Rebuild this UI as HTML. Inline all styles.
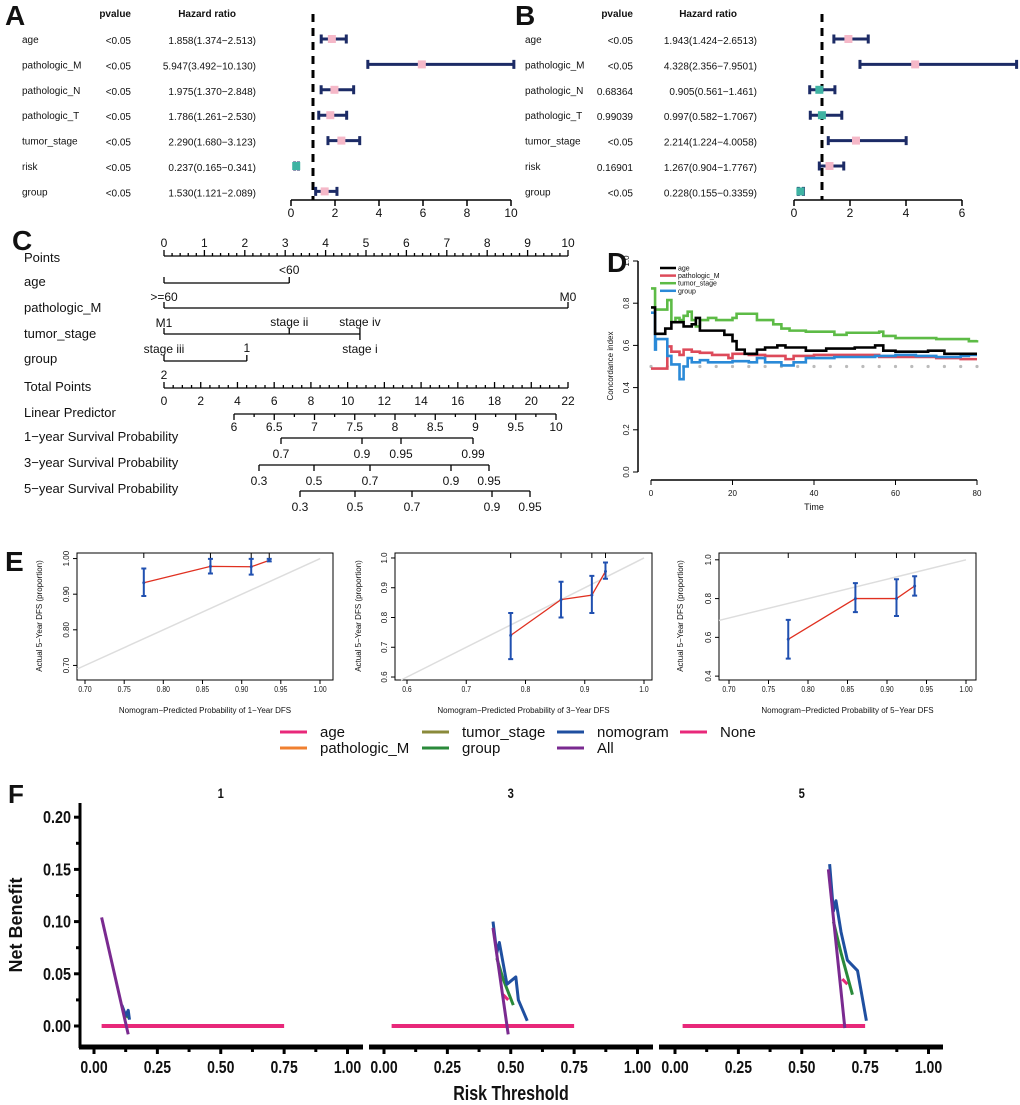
<!DOCTYPE html>
<html><head><meta charset="utf-8"><style>
html,body{margin:0;padding:0;background:#fff}
svg{display:block}
text{font-family:"Liberation Sans",Arial,sans-serif}
</style></head><body>
<svg id="fig" width="1020" height="1105" viewBox="0 0 1020 1105" xmlns="http://www.w3.org/2000/svg"></svg>
<script>
// ---------- DATA ----------
const forestVars = ['age','pathologic_M','pathologic_N','pathologic_T','tumor_stage','risk','group'];
const A_p = ['<0.05','<0.05','<0.05','<0.05','<0.05','<0.05','<0.05'];
const A_hr = [1.858,5.947,1.975,1.786,2.290,0.237,1.530];
const A_lo = [1.374,3.492,1.370,1.261,1.680,0.165,1.121];
const A_hi = [2.513,10.130,2.848,2.530,3.123,0.341,2.089];
const A_txt = ['1.858(1.374−2.513)','5.947(3.492−10.130)','1.975(1.370−2.848)','1.786(1.261−2.530)','2.290(1.680−3.123)','0.237(0.165−0.341)','1.530(1.121−2.089)'];
const A_ticks = [0,2,4,6,8,10];
const B_p = ['<0.05','<0.05','0.68364','0.99039','<0.05','0.16901','<0.05'];
const B_hr = [1.943,4.328,0.905,0.997,2.214,1.267,0.228];
const B_lo = [1.424,2.356,0.561,0.582,1.224,0.904,0.155];
const B_hi = [2.6513,7.9501,1.461,1.7067,4.0058,1.7767,0.3359];
const B_txt = ['1.943(1.424−2.6513)','4.328(2.356−7.9501)','0.905(0.561−1.461)','0.997(0.582−1.7067)','2.214(1.224−4.0058)','1.267(0.904−1.7767)','0.228(0.155−0.3359)'];
const B_ticks = [0,2,4,6];

const D_age_t = [0,1,3.5,5,8,10,11,12,16,18,20,21,23,26,28,31,33,38,43,50,55,57,60,65,68,72,78,80];
const D_age_v = [0.78,0.655,0.68,0.71,0.69,0.70,0.73,0.67,0.67,0.65,0.62,0.58,0.56,0.58,0.59,0.60,0.59,0.575,0.585,0.59,0.60,0.575,0.57,0.57,0.575,0.56,0.56,0.56];
const D_m_t = [0,4,5,7,8,10,12,15,19,20,24,28,33,35,40,56,70,76,80];
const D_m_v = [0.49,0.595,0.57,0.555,0.58,0.57,0.565,0.555,0.54,0.56,0.555,0.55,0.535,0.55,0.555,0.545,0.54,0.535,0.535];
const D_ts_t = [0,1,4,5,6,7,8,9,10,11,12,14,16,20,21,26,28,30,32,34,38,45,48,56,57,60,70,78,80];
const D_ts_v = [0.87,0.77,0.815,0.71,0.73,0.72,0.74,0.76,0.72,0.69,0.72,0.73,0.72,0.73,0.75,0.72,0.72,0.70,0.68,0.67,0.665,0.65,0.66,0.665,0.645,0.635,0.63,0.62,0.625];
const D_g_t = [0,1,1.2,4,5,7,8,9,10,12,14,20,24,26,28,32,35,38,45,55,60,65,70,76,78,80];
const D_g_v = [0.755,0.58,0.63,0.55,0.51,0.44,0.50,0.54,0.52,0.53,0.52,0.525,0.52,0.54,0.52,0.505,0.52,0.54,0.545,0.55,0.555,0.55,0.545,0.55,0.555,0.555];
const D_yticks = [0,0.2,0.4,0.6,0.8,1.0];
const D_xticks = [0,20,40,60,80];

const E_pred = [0.775,0.86,0.912,0.935];
const E1_obs = [0.932,0.978,0.977,0.995], E1_lo=[0.895,0.958,0.955,0.992], E1_hi=[0.972,0.999,0.999,0.999];
const E2_obs = [0.74,0.86,0.875,0.955], E2_lo=[0.66,0.80,0.815,0.93], E2_hi=[0.815,0.92,0.94,0.985];
const E3_obs = [0.59,0.80,0.80,0.865], E3_lo=[0.49,0.73,0.71,0.815], E3_hi=[0.69,0.88,0.90,0.915];

const F_thr_none = [0.03,0.75];
const F1_all_x=[0.03,0.135], F1_all_y=[0.104,-0.008];
const F1_nom_x=[0.11,0.125,0.135,0.14], F1_nom_y=[0.02,0.01,0.015,0.006];
const F1_grp_x=[0.12,0.135], F1_grp_y=[0.012,0.008];
const F2_all_x=[0.43,0.49], F2_all_y=[0.094,-0.008];
const F2_nom_x=[0.43,0.445,0.455,0.47,0.485,0.52,0.53,0.565], F2_nom_y=[0.10,0.07,0.08,0.06,0.04,0.047,0.025,0.005];
const F2_grp_x=[0.445,0.47,0.51], F2_grp_y=[0.065,0.045,0.02];
const F2_age_x=[0.47,0.49], F2_age_y=[0.03,0.025];
const F3_all_x=[0.605,0.67], F3_all_y=[0.15,-0.002];
const F3_nom_x=[0.61,0.625,0.635,0.655,0.68,0.72,0.755], F3_nom_y=[0.155,0.11,0.12,0.09,0.063,0.053,0.005];
const F3_grp_x=[0.625,0.655,0.7], F3_grp_y=[0.10,0.07,0.03];
const F3_age_x=[0.66,0.68], F3_age_y=[0.045,0.04];
const F_yticks=[0,0.05,0.10,0.15,0.20];
const F_xticks=[0,0.25,0.5,0.75,1.0];

// ---------- HELPERS ----------
const NS='http://www.w3.org/2000/svg';
const svg=document.getElementById('fig');
function mk(tag,attrs,parent){const e=document.createElementNS(NS,tag);for(const k in attrs)e.setAttribute(k,attrs[k]);(parent||svg).appendChild(e);return e;}
function tx(x,y,s,size,anchor,parent,extra){const e=mk('text',Object.assign({x:x,y:y,'font-size':size,'text-anchor':anchor||'start',fill:'#111'},extra||{}),parent);e.textContent=s;return e;}
function narrow(x,k){return `translate(${x} 0) scale(${k} 1) translate(${-x} 0)`;}
function grp(name){const g=mk('g',{});return g;}

// ---------- FOREST ----------
function forest(tag,ox,lblX,pX,hrX,x0,unit,p,hr,lo,hi,txt,ticks,maxX){
  const g=grp('panel-'+tag);
  let e=tx(ox,25,tag.toUpperCase(),28,'start',g,{'font-weight':'bold'});
  
  e=tx(pX,17,'pvalue',10,'end',g,{'font-weight':'bold'});
  
  e=tx(hrX-20,17,'Hazard ratio',10,'end',g,{'font-weight':'bold'});
  
  const X=v=>x0+v*unit;
  e=mk('line',{x1:X(1),x2:X(1),y1:14,y2:200,stroke:'#000','stroke-width':3,'stroke-dasharray':'8,6'},g);
  
  forestVars.forEach((v,i)=>{
    const y=39+i*25.4;
    let t=tx(lblX,y+4,v,10,'start',g);
    
    t=tx(pX,y+5,p[i],10,'end',g);
    
    t=tx(hrX,y+5,txt[i],10,'end',g);
    
    const a=X(lo[i]),b=Math.min(X(hi[i]),maxX);
    const w=mk('path',{d:`M${a},${y}H${b}M${a},${y-4.5}V${y+4.5}`+(X(hi[i])<=maxX?`M${b},${y-4.5}V${y+4.5}`:''),stroke:'#1c2b66','stroke-width':3,fill:'none'},g);
    
    const m=mk('rect',{x:X(hr[i])-4,y:y-4,width:8,height:8,fill:hr[i]<1?'#3fb3a3':'#f5b8c8'},g);
    
  });
  const ax=mk('line',{x1:X(ticks[0]),x2:X(ticks[ticks.length-1]),y1:200,y2:200,stroke:'#000','stroke-width':1.5},g);
  
  ticks.forEach(t=>{mk('line',{x1:X(t),x2:X(t),y1:200,y2:206,stroke:'#000','stroke-width':1.5},g);
    const l=tx(X(t),217,String(t),12,'middle',g);});
}
forest('a',5,22,131,256,291,22,A_p,A_hr,A_lo,A_hi,A_txt,A_ticks,1020);
forest('b',515,525,633,757,794,28,B_p,B_hr,B_lo,B_hi,B_txt,B_ticks,1017);

// ---------- NOMOGRAM C ----------
const C_rows=['Points','age','pathologic_M','tumor_stage','group','Total Points','Linear Predictor','1−year Survival Probability','3−year Survival Probability','5−year Survival Probability'];
const C_rowY=[262,286,312,338,363,391,417,441,467,493];
const C_lp=[6,6.5,7,7.5,8,8.5,9,9.5,10];
const C_p1=[0.7,0.9,0.95,0.99], C_p1x=[281,362,401,473];
const C_p3=[0.3,0.5,0.7,0.9,0.95], C_p3x=[259,314,370,451,489];
const C_p5=[0.3,0.5,0.7,0.9,0.95], C_p5x=[300,355,412,492,530];
(function(){
  const g=grp('panel-c-nomogram');
  let e=tx(12,250,'C',28,'start',g,{'font-weight':'bold'});
  C_rows.forEach((r,i)=>{const t=tx(24,C_rowY[i],r,13,'start',g);});
  const P=v=>164+v*40.4;
  const L=(x1,x2,y)=>{const l=mk('line',{x1:x1,x2:x2,y1:y,y2:y,stroke:'#000','stroke-width':1.3},g);return l;};
  const T=(x,y,h)=>mk('line',{x1:x,x2:x,y1:y,y2:y+h,stroke:'#000','stroke-width':1.3},g);
  e=L(P(0),P(10),256);
  for(let k=0;k<=50;k++){T(P(k/5),256,k%5?-3:-6);}
  for(let k=0;k<=10;k++){const t=tx(P(k),247,String(k),12,'middle',g);}
  e=L(P(0),P(3.1),283);T(P(0),283,-6);T(P(3.1),283,-6);
  tx(P(3.1),274,'<60',12,'middle',g);
  e=L(P(0),P(10),308);T(P(0),308,-6);T(P(10),308,-6);
  tx(P(0),301,'>=60',12,'middle',g);tx(P(10),301,'M0',12,'middle',g);
  e=L(P(0),P(4.85),334);T(P(0),334,-6);T(P(3.1),334,-6);T(P(4.85),334,-6);T(P(4.85),334,6);
  tx(P(0),327,'M1',12,'middle',g);tx(P(3.1),326,'stage ii',12,'middle',g);tx(P(4.85),326,'stage iv',12,'middle',g);
  e=L(P(0),P(2.05),361);T(P(0),361,-6);T(P(2.05),361,-6);
  tx(P(0),353,'stage iii',12,'middle',g);tx(P(2.05),352,'1',12,'middle',g);tx(P(4.85),353,'stage i',12,'middle',g);tx(P(0),379,'2',12,'middle',g);
  const TP=v=>164+v*404/22;
  e=L(TP(0),TP(22),388);
  for(let k=0;k<=44;k++){T(TP(k/2),388,k%4?-3:-6);}
  for(let k=0;k<=22;k+=2){const t=tx(TP(k),405,String(k),12,'middle',g);}
  const LP=v=>234+(v-6)*80.5;
  e=L(LP(6),LP(10),414);
  for(let k=0;k<=16;k++){T(LP(6+k*0.25),414,k%2?3:6);}
  C_lp.forEach(v=>{const t=tx(LP(v),431,String(v),12,'middle',g);});
  const prob=(vals,xs,y,name)=>{const a=L(xs[0],xs[xs.length-1],y);
    vals.forEach((v,i)=>{T(xs[i],y,6);const t=tx(xs[i],y+20,String(v),12,'middle',g);});};
  prob(C_p1,C_p1x,438,'survival-1yr-axis');
  prob(C_p3,C_p3x,465,'survival-3yr-axis');
  prob(C_p5,C_p5x,491,'survival-5yr-axis');
})();

// ---------- D ----------
(function(){
  const g=grp('panel-d-concordance');
  let e=tx(607,272,'D',28,'start',g,{'font-weight':'bold'});
  const X=t=>651+t*(326/80), Y=v=>472-v*211;
  e=mk('line',{x1:638,x2:638,y1:Y(1),y2:Y(0),stroke:'#000','stroke-width':1.5},g);
  e=mk('line',{x1:X(0),x2:X(80),y1:480,y2:480,stroke:'#000','stroke-width':1.5},g);
  D_yticks.forEach(v=>{mk('line',{x1:633,x2:638,y1:Y(v),y2:Y(v),stroke:'#000'},g);
    const t=tx(629,Y(v),v.toFixed(1),8,'middle',g,{transform:`rotate(-90 629 ${Y(v)})`});});
  D_xticks.forEach(v=>{mk('line',{x1:X(v),x2:X(v),y1:480,y2:485,stroke:'#000'},g);
    const t=tx(X(v),496,String(v),8,'middle',g);});
  e=tx(613,366,'Concordance index',8,'middle',g,{transform:'rotate(-90 613 366)'});
  e=tx(814,510,'Time',9,'middle',g);
  for(let t=0;t<=80;t+=4){const c=mk('circle',{cx:X(t),cy:Y(0.5),r:1.6,fill:'#bbb'},g);}
  const step=(ts,vs,col,name)=>{let d=`M${X(ts[0])},${Y(vs[0])}`;for(let i=1;i<ts.length;i++){d+=`H${X(ts[i])}V${Y(vs[i])}`;}
    const p=mk('path',{d:d,stroke:col,'stroke-width':2.6,fill:'none'},g);};
  step(D_ts_t,D_ts_v,'#5dbb46','tumor-stage-line');
  step(D_m_t,D_m_v,'#dd4a5a','pathologic-m-line');
  step(D_g_t,D_g_v,'#2a8ad8','group-line');
  step(D_age_t,D_age_v,'#000','age-line');
  [['age','#000'],['pathologic_M','#dd4a5a'],['tumor_stage','#5dbb46'],['group','#2a8ad8']].forEach((l,i)=>{
    const y=268+i*7.6;
    const s=mk('line',{x1:660,x2:676,y1:y,y2:y,stroke:l[1],'stroke-width':2.5},g);
    const t=tx(678,y+2.5,l[0],7,'start',g);});
})();

// ---------- E ----------
function calib(name,bx0,bx1,xticks,xfmt,ymin,ymax,yticks,yfmt,ytop,ybot,obs,lo,hi,xlab,titleX){
  const g=grp(name);
  const sx=(xticks[1][1]-xticks[0][1])/(xticks[1][0]-xticks[0][0]);
  const XX=v=>xticks[0][1]+(v-xticks[0][0])*sx;
  const XINV=px=>(px-xticks[0][1])/sx+xticks[0][0];
  const sy=(ybot-ytop)/(ymax-ymin);
  const YY=v=>ybot-(v-ymin)*sy;
  let e=mk('rect',{x:bx0,y:553,width:bx1-bx0,height:127,fill:'none',stroke:'#000','stroke-width':1},g);
  const vl=Math.max(XINV(bx0),ymin);
  e=mk('line',{x1:XX(vl),y1:YY(vl),x2:XX(1.0),y2:YY(1.0),stroke:'#ddd','stroke-width':1.5},g);
  xticks.forEach(t=>{mk('line',{x1:t[1],x2:t[1],y1:680,y2:684,stroke:'#000'},g);
    const l=tx(t[1],692,t[0].toFixed(xfmt),8,'middle',g,{transform:narrow(t[1],0.85)});});
  yticks.forEach(v=>{const y=YY(v);mk('line',{x1:bx0-4,x2:bx0,y1:y,y2:y,stroke:'#000'},g);
    const l=tx(bx0-8,y,v.toFixed(yfmt),8,'middle',g,{transform:`rotate(-90 ${bx0-8} ${y})`});});
  e=tx(titleX,616,'Actual 5−Year DFS (proportion)',8,'middle',g,{transform:`rotate(-90 ${titleX} 616)`});
  e=tx((bx0+bx1)/2,713,xlab,8,'middle',g);
  let d='';E_pred.forEach((p,i)=>{d+=(i?'L':'M')+XX(p)+','+YY(obs[i]);});
  e=mk('path',{d:d,stroke:'#e03020','stroke-width':1.3,fill:'none'},g);
  E_pred.forEach((p,i)=>{const x=XX(p);
    const b=mk('path',{d:`M${x},${YY(lo[i])}V${YY(hi[i])}M${x-2.5},${YY(lo[i])}h5M${x-2.5},${YY(hi[i])}h5`,stroke:'#2050b0','stroke-width':2,fill:'none'},g);
    
    const r=mk('line',{x1:x,x2:x,y1:553,y2:558,stroke:'#000'},g);
    const m=mk('circle',{cx:x,cy:YY(obs[i]),r:1.5,fill:'#2050b0'},g);});
}
calib('panel-e-1yr',77,333,[[0.70,85],[0.75,124.2],[0.80,163.3],[0.85,202.5],[0.90,241.7],[0.95,280.8],[1.00,320]],2,0.69,1.01,[0.70,0.80,0.90,1.00],2,555,669,E1_obs,E1_lo,E1_hi,'Nomogram−Predicted Probability of 1−Year DFS',42);
calib('panel-e-3yr',395,652,[[0.6,407],[0.7,466.25],[0.8,525.5],[0.9,584.75],[1.0,644]],1,0.59,1.01,[0.6,0.7,0.8,0.9,1.0],1,555,680,E2_obs,E2_lo,E2_hi,'Nomogram−Predicted Probability of 3−Year DFS',361);
calib('panel-e-5yr',719,976,[[0.70,729],[0.75,768.5],[0.80,808],[0.85,847.5],[0.90,887],[0.95,926.5],[1.00,966]],2,0.38,1.03,[0.4,0.6,0.8,1.0],1,554,680,E3_obs,E3_lo,E3_hi,'Nomogram−Predicted Probability of 5−Year DFS',683);
(function(){const e=tx(5,571,'E',28,'start',svg,{'font-weight':'bold'});})();

// ---------- LEGEND ----------
const legNames=['age','pathologic_M','tumor_stage','group','nomogram','All','None'];
const legCols=['#e8287a','#f08030','#8a8a3a','#2a8a3a','#1f4fa0','#7a2a90','#e8287a'];
(function(){
  const g=grp('dca-legend');
  const pos=[[280,732],[280,748],[422,732],[422,748],[557,732],[557,748],[680,732]];
  legNames.forEach((n,i)=>{const [x,y]=pos[i];
    const s=mk('line',{x1:x,x2:x+27,y1:y,y2:y,stroke:legCols[i],'stroke-width':3},g);
    const t=tx(x+40,y+5,n,15,'start',g);});
})();

// ---------- F ----------
(function(){
  const g=grp('panel-f-dca');
  let e=tx(8,803,'F',26,'start',g,{'font-weight':'bold'});
  const Y=v=>1026-v*1044;
  e=mk('line',{x1:80,x2:80,y1:803,y2:1048,stroke:'#000','stroke-width':3},g);
  F_yticks.forEach(v=>{mk('line',{x1:74,x2:80,y1:Y(v),y2:Y(v),stroke:'#000','stroke-width':3},g);
    const t=tx(71,Y(v)+6,v.toFixed(2),18,'end',g,{'font-weight':'bold',transform:narrow(71,0.8)});});
  for(let v=0.025;v<0.2;v+=0.05){mk('line',{x1:76,x2:80,y1:Y(v),y2:Y(v),stroke:'#000','stroke-width':3},g);}
  e=tx(22,925,'Net Benefit',18,'middle',g,{'font-weight':'bold',transform:'rotate(-90 22 925)'});
  e=tx(511,1100,'Risk Threshold',20,'middle',g,{'font-weight':'bold',transform:narrow(511,0.8)});
  const facets=[{x0:94,a:79,b:363,t:'1',all:[F1_all_x,F1_all_y],nom:[F1_nom_x,F1_nom_y],grp:[F1_grp_x,F1_grp_y],age:null},
    {x0:384,a:369,b:653,t:'3',all:[F2_all_x,F2_all_y],nom:[F2_nom_x,F2_nom_y],grp:[F2_grp_x,F2_grp_y],age:[F2_age_x,F2_age_y]},
    {x0:675,a:659,b:943,t:'5',all:[F3_all_x,F3_all_y],nom:[F3_nom_x,F3_nom_y],grp:[F3_grp_x,F3_grp_y],age:[F3_age_x,F3_age_y]}];
  facets.forEach(f=>{
    const X=v=>f.x0+v*253.5;
    let t=tx(X(0.5),798,f.t,14,'middle',g,{'font-weight':'bold',transform:narrow(X(0.5),0.8)});
    let a=mk('line',{x1:f.a,x2:f.b,y1:1047,y2:1047,stroke:'#000','stroke-width':5},g);
    for(let k=0;k<=8;k++){mk('line',{x1:X(k/8),x2:X(k/8),y1:1047,y2:k%2?1052:1054,stroke:'#000','stroke-width':3},g);}
    F_xticks.forEach(v=>{const l=tx(X(v),1073,v.toFixed(2),18,'middle',g,{'font-weight':'bold',transform:narrow(X(v),0.78)});});
    const line=(xs,ys,col,w,name)=>{let d='';xs.forEach((x,i)=>{d+=(i?'L':'M')+X(x)+','+Y(ys[i]);});
      const p=mk('path',{d:d,stroke:col,'stroke-width':w,fill:'none','stroke-linejoin':'round'},g);};
    line(F_thr_none,[0,0],'#e8287a',4,'none-line');
    if(f.age)line(f.age[0],f.age[1],'#e8287a',3,'age-line');
    line(f.grp[0],f.grp[1],'#2a8a3a',3,'group-line');
    line(f.nom[0],f.nom[1],'#1f4fa0',3,'nomogram-line');
    line(f.all[0],f.all[1],'#7a2a90',3,'all-line');
  });
})();
</script>
</body></html>
